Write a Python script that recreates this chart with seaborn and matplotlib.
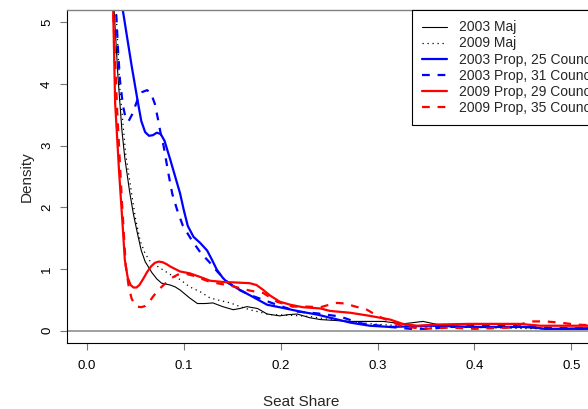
import pandas as pd
import seaborn as sns
import matplotlib.pyplot as plt

# Density curves (seat share, density)
maj03_x = [0.022, 0.028, 0.032, 0.036, 0.039, 0.044, 0.048, 0.052, 0.056, 0.060, 0.067, 0.072, 0.077,
           0.086, 0.091, 0.096, 0.106, 0.114, 0.122, 0.130, 0.140, 0.151, 0.158, 0.165, 0.176, 0.186,
           0.199, 0.208, 0.217, 0.230, 0.241, 0.272, 0.306, 0.326, 0.347, 0.362, 0.382, 0.444, 0.471, 0.530]
maj03_y = [6.45, 5.19, 4.10, 3.25, 2.80, 2.25, 1.88, 1.58, 1.30, 1.12, 0.94, 0.84, 0.77,
           0.74, 0.71, 0.66, 0.53, 0.44, 0.44, 0.45, 0.39, 0.34, 0.36, 0.39, 0.36, 0.27,
           0.24, 0.26, 0.27, 0.21, 0.18, 0.15, 0.15, 0.11, 0.15, 0.10, 0.06, 0.06, 0.03, 0.05]

maj09_x = [0.024, 0.030, 0.034, 0.040, 0.046, 0.050, 0.055, 0.060, 0.065, 0.070, 0.075, 0.086, 0.096,
           0.106, 0.117, 0.127, 0.137, 0.148, 0.158, 0.168, 0.189, 0.210, 0.230, 0.251, 0.280, 0.303,
           0.344, 0.406, 0.468, 0.530]
maj09_y = [6.45, 5.19, 3.90, 2.85, 2.23, 1.82, 1.45, 1.25, 1.13, 1.07, 1.02, 0.91, 0.83,
           0.71, 0.63, 0.53, 0.49, 0.45, 0.39, 0.34, 0.26, 0.25, 0.23, 0.18, 0.13, 0.10,
           0.06, 0.05, 0.03, 0.03]

prop03_25_x = [0.025, 0.037, 0.046, 0.052, 0.056, 0.060, 0.064, 0.068, 0.072, 0.076, 0.080, 0.086,
               0.091, 0.096, 0.100, 0.104, 0.110, 0.117, 0.124, 0.129, 0.134, 0.140, 0.145, 0.158,
               0.171, 0.186, 0.202, 0.220, 0.238, 0.251, 0.272, 0.292, 0.313, 0.354, 0.406, 0.458,
               0.473, 0.530]
prop03_25_y = [6.30, 5.19, 4.30, 3.75, 3.40, 3.22, 3.16, 3.17, 3.21, 3.19, 3.08, 2.77,
               2.50, 2.23, 1.95, 1.70, 1.52, 1.42, 1.30, 1.15, 0.99, 0.86, 0.78, 0.66,
               0.55, 0.42, 0.37, 0.31, 0.26, 0.21, 0.13, 0.08, 0.06, 0.08, 0.06, 0.06,
               0.03, 0.03]

prop03_31_x = [0.026, 0.030, 0.032, 0.034, 0.037, 0.040, 0.043, 0.047, 0.052, 0.057, 0.062, 0.066,
               0.070, 0.073, 0.076, 0.079, 0.084, 0.088, 0.093, 0.099, 0.108, 0.117, 0.127, 0.135,
               0.145, 0.156, 0.168, 0.182, 0.196, 0.217, 0.238, 0.261, 0.282, 0.313, 0.334, 0.354,
               0.375, 0.406, 0.447, 0.468, 0.530]
prop03_31_y = [6.30, 5.19, 4.55, 4.06, 3.66, 3.43, 3.40, 3.52, 3.74, 3.87, 3.90, 3.85,
               3.68, 3.45, 3.20, 3.00, 2.55, 2.22, 1.96, 1.70, 1.47, 1.27, 1.10, 0.95,
               0.79, 0.67, 0.58, 0.50, 0.42, 0.31, 0.28, 0.23, 0.12, 0.06, 0.03, 0.03,
               0.06, 0.08, 0.08, 0.05, 0.03]

prop09_29_x = [0.024, 0.027, 0.029, 0.033, 0.037, 0.039, 0.042, 0.045, 0.048, 0.051, 0.054, 0.058,
               0.062, 0.066, 0.070, 0.074, 0.078, 0.082, 0.086, 0.096, 0.106, 0.117, 0.127, 0.140,
               0.155, 0.168, 0.175, 0.182, 0.189, 0.199, 0.210, 0.223, 0.241, 0.251, 0.272, 0.292,
               0.313, 0.326, 0.341, 0.362, 0.396, 0.447, 0.468, 0.530]
prop09_29_y = [6.50, 5.19, 3.70, 2.60, 1.65, 1.15, 0.86, 0.74, 0.70, 0.70, 0.74, 0.84,
               0.95, 1.04, 1.10, 1.12, 1.11, 1.08, 1.04, 0.96, 0.93, 0.87, 0.81, 0.79,
               0.78, 0.77, 0.74, 0.66, 0.57, 0.47, 0.42, 0.38, 0.36, 0.32, 0.29, 0.24,
               0.18, 0.11, 0.08, 0.10, 0.11, 0.11, 0.08, 0.08]

prop09_35_x = [0.024, 0.027, 0.031, 0.036, 0.040, 0.043, 0.046, 0.049, 0.052, 0.056, 0.060, 0.064,
               0.068, 0.073, 0.079, 0.084, 0.089, 0.094, 0.100, 0.110, 0.127, 0.148, 0.168, 0.182,
               0.196, 0.212, 0.227, 0.241, 0.250, 0.258, 0.267, 0.275, 0.289, 0.300, 0.313, 0.326,
               0.347, 0.375, 0.400, 0.437, 0.447, 0.458, 0.473, 0.489, 0.504, 0.530]
prop09_35_y = [6.50, 5.19, 3.60, 2.10, 1.05, 0.72, 0.52, 0.43, 0.39, 0.38, 0.40, 0.46,
               0.55, 0.65, 0.74, 0.81, 0.87, 0.91, 0.93, 0.89, 0.79, 0.73, 0.65, 0.61,
               0.47, 0.39, 0.39, 0.38, 0.42, 0.45, 0.44, 0.40, 0.34, 0.24, 0.15, 0.07,
               0.03, 0.05, 0.03, 0.05, 0.10, 0.15, 0.15, 0.13, 0.10, 0.08]

series = [
    ("2003 Maj", maj03_x, maj03_y, "black", "-", 0.8),
    ("2009 Maj", maj09_x, maj09_y, "black", (0, (1, 3)), 0.9),
    ("2003 Prop, 25 Councils", prop03_25_x, prop03_25_y, "blue", "-", 1.6),
    ("2003 Prop, 31 Councils", prop03_31_x, prop03_31_y, "blue", (0, (3.5, 3.5)), 1.6),
    ("2009 Prop, 29 Councils", prop09_29_x, prop09_29_y, "red", "-", 1.6),
    ("2009 Prop, 35 Councils", prop09_35_x, prop09_35_y, "red", (0, (3.5, 3.5)), 1.6),
]

sns.set_theme(style="white")
plt.rcParams['font.family'] = ['Liberation Sans', 'DejaVu Sans']

fig = plt.figure(figsize=(5.88, 4.09), dpi=100)
# axes run past the right edge, as in the cropped original
ax = fig.add_axes([67 / 588, 66 / 409, 541 / 588, 333 / 409])

ax.axhline(0, color="#999999", lw=1.3, zorder=1)

for label, xs, ys, col, ls, lw in series:
    df = pd.DataFrame({"x": xs, "y": ys})
    sns.lineplot(data=df, x="x", y="y", sort=False, estimator=None, color=col,
                 linestyle=ls, linewidth=lw, label=label, ax=ax)

ax.set_xlim(-0.0207, 0.538)
ax.set_ylim(-0.2, 5.2)
ax.set_xticks([0.0, 0.1, 0.2, 0.3, 0.4, 0.5])
ax.set_xticklabels(["0.0", "0.1", "0.2", "0.3", "0.4", "0.5"])
ax.set_yticks([0, 1, 2, 3, 4, 5])
ax.set_yticklabels(["0", "1", "2", "3", "4", "5"], rotation=90, va="center")
ax.tick_params(axis="both", direction="out", length=5, width=0.8, color="#777777",
               labelsize=9.5, labelcolor="black", bottom=True, left=True)
ax.tick_params(axis="x", pad=7)
ax.tick_params(axis="y", pad=5)

ax.set_xlabel("Seat Share", fontsize=11)
ax.set_ylabel("Density", fontsize=11)
ax.xaxis.set_label_coords((301 - 67) / 541, -0.155)
ax.yaxis.set_label_coords(-0.062, 0.5)

for side in ["left", "bottom", "right"]:
    ax.spines[side].set_color("black")
    ax.spines[side].set_linewidth(0.8)
ax.spines["top"].set_color("#808080")
ax.spines["top"].set_linewidth(1.0)

leg = ax.legend(loc="upper left", bbox_to_anchor=(412 / 588, 1 - 10 / 409),
                bbox_transform=fig.transFigure, fontsize=10, frameon=True,
                fancybox=False, edgecolor="black", handlelength=1.8,
                handletextpad=0.85, labelspacing=0.15, borderpad=0.75, borderaxespad=0)
leg.get_frame().set_linewidth(0.8)
leg.get_frame().set_facecolor("white")
leg.get_frame().set_alpha(1)

fig.savefig("out.png", dpi=100)
